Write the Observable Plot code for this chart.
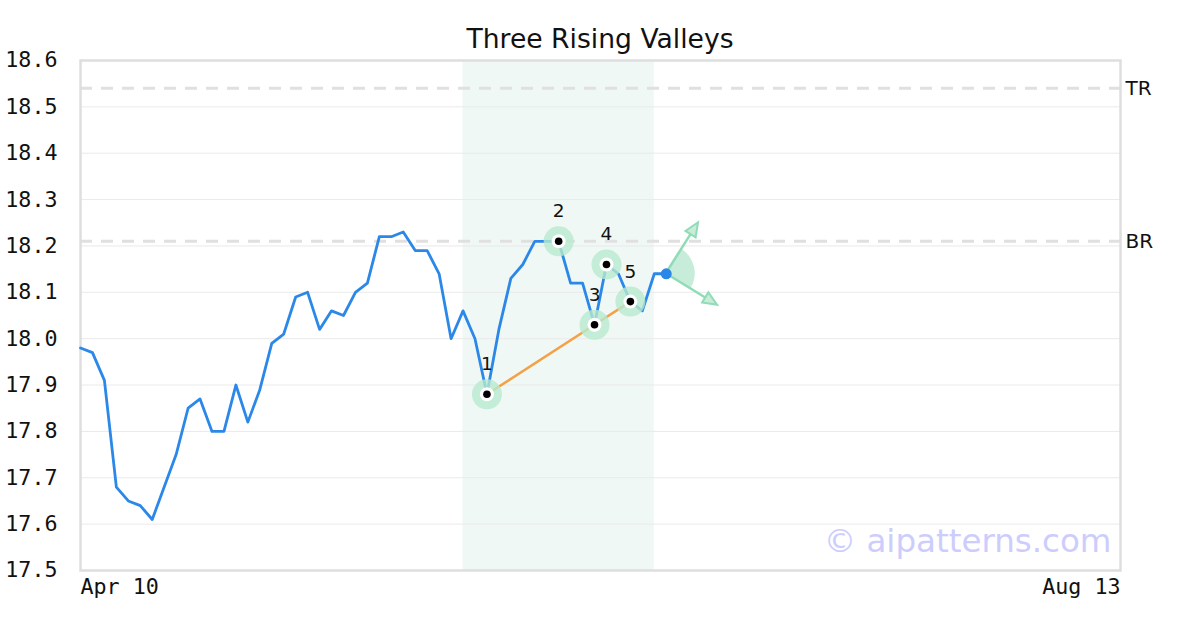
<!DOCTYPE html>
<html>
<head>
<meta charset="utf-8">
<script src="https://cdn.jsdelivr.net/npm/d3@7"></script>
<script src="https://cdn.jsdelivr.net/npm/@observablehq/plot@0.6"></script>
<style>
  html, body { margin: 0; padding: 0; background: #fff; }
  #wrap { position: relative; width: 1200px; height: 630px; }
  #title { position: absolute; left: 0; top: 26px; width: 1200px; text-align: center;
           font-family: "DejaVu Sans", sans-serif; font-size: 26.6px; line-height: 26px; color: #111; }
  #chart { position: absolute; left: 0; top: 0; }
</style>
</head>
<body>
<div id="wrap">
  <div id="chart"></div>
  <div id="title">Three Rising Valleys</div>
</div>
<script>
// ---- data ----
const prices = [17.98, 17.97, 17.91, 17.68, 17.65, 17.64, 17.61, 17.68, 17.75, 17.85,
                17.87, 17.80, 17.80, 17.90, 17.82, 17.89, 17.99, 18.01, 18.09, 18.10,
                18.02, 18.06, 18.05, 18.10, 18.12, 18.22, 18.22, 18.23, 18.19, 18.19,
                18.14, 18.00, 18.06, 18.00, 17.88, 18.02, 18.13, 18.16, 18.21, 18.21,
                18.21, 18.12, 18.12, 18.03, 18.16, 18.14, 18.08, 18.06, 18.14, 18.14];
const xDomain = [0, 87];
const xTickLabels = ["Apr 10", "Aug 13"];
const yDomain = [17.5, 18.6];
const yTicks = [17.5, 17.6, 17.7, 17.8, 17.9, 18.0, 18.1, 18.2, 18.3, 18.4, 18.5, 18.6];
const levelNames = ["TR", "BR"];
const levelValues = [18.54, 18.21];
const patternIdx = [34, 40, 43, 44, 46];
const patternLabels = ["1", "2", "3", "4", "5"];
const trendIdx = [34, 43, 46];
const zoneRange = [32, 48];
const lastIdx = 49;
const arrowEndX = [51.7, 53.3];
const arrowEndY = [18.25, 18.072];
const watermark = "© aipatterns.com";

// ---- tables ----
const series = prices.map((v, i) => ({i, v}));
const pattern = patternIdx.map((i, k) => ({i, v: prices[i], label: patternLabels[k]}));
const trend = trendIdx.map(i => ({i, v: prices[i]}));
const levels = levelNames.map((n, k) => ({name: n, v: levelValues[k]}));
const last = [{i: lastIdx, v: prices[lastIdx]}];
const arrows = arrowEndX.map((x, k) => ({x1: lastIdx, y1: prices[lastIdx], x2: x, y2: arrowEndY[k]}));

const green = "#8fdcb6";

function projection(index, scales) {
  const sx = scales.x, sy = scales.y;
  const g = d3.create("svg:g");
  const cx = sx(lastIdx), cy = sy(prices[lastIdx]);
  const ends = arrows.map(a => [sx(a.x2), sy(a.y2)]);
  const ang = ends.map(([x, y]) => Math.atan2(x - cx, -(y - cy)));
  const arc = d3.arc().innerRadius(0).outerRadius(29)
      .startAngle(Math.min(...ang)).endAngle(Math.max(...ang));
  g.append("path").attr("d", arc()).attr("transform", `translate(${cx},${cy})`)
      .attr("fill", green).attr("fill-opacity", 0.5);
  for (const [x, y] of ends) {
    const dx = x - cx, dy = y - cy, L = Math.hypot(dx, dy);
    const ux = dx / L, uy = dy / L;
    const hl = 14, hw = 6;
    const bx = x - ux * hl, by = y - uy * hl;
    g.append("line").attr("x1", cx).attr("y1", cy).attr("x2", bx).attr("y2", by)
      .attr("stroke", green).attr("stroke-width", 2.5);
    g.append("path")
      .attr("d", `M${x},${y}L${bx - uy * hw},${by + ux * hw}L${bx + uy * hw},${by - ux * hw}Z`)
      .attr("fill", green).attr("fill-opacity", 0.5)
      .attr("stroke", green).attr("stroke-width", 2).attr("stroke-linejoin", "miter");
  }
  return g.node();
}

const chart = Plot.plot({
  width: 1200,
  height: 630,
  marginTop: 60,
  marginBottom: 60,
  marginLeft: 80,
  marginRight: 80,
  style: {fontFamily: "DejaVu Sans Mono, monospace", fontSize: "21.7px", color: "#111", background: "#fff"},
  x: {domain: xDomain, axis: null},
  y: {domain: yDomain, axis: null},
  marks: [
    Plot.rect([zoneRange], {x1: d => d[0], x2: d => d[1], fill: "#eff8f4"}),
    Plot.ruleY(yTicks, {stroke: "#eaeaea", strokeWidth: 1}),
    Plot.ruleY(levels, {y: "v", stroke: "#e0e0e0", strokeWidth: 3, strokeDasharray: "12,9"}),
    Plot.frame({stroke: "#dedede", strokeWidth: 2.5}),
    Plot.axisY({ticks: yTicks, tickSize: 0, tickPadding: 23, tickFormat: d => d.toFixed(1),
                label: null, fontSize: 21.7, fontFamily: "DejaVu Sans Mono, monospace"}),
    Plot.axisX({ticks: [xDomain[0]], tickSize: 0, tickPadding: 8, textAnchor: "start",
                label: null, tickFormat: () => xTickLabels[0], fontSize: 21.7}),
    Plot.axisX({ticks: [xDomain[1]], tickSize: 0, tickPadding: 8, textAnchor: "end",
                label: null, tickFormat: () => xTickLabels[1], fontSize: 21.7}),
    Plot.text(levels, {x: xDomain[1], y: "v", text: "name", textAnchor: "start", dx: 5,
                       fontFamily: "DejaVu Sans, sans-serif", fontSize: 20, fill: "#111"}),
    Plot.text([watermark], {frameAnchor: "bottom-right", dx: -9, dy: -19, text: d => d,
                            fontFamily: "DejaVu Sans, sans-serif", fontSize: 32.5, fill: "#cdcdfd"}),
    Plot.line(series, {x: "i", y: "v", stroke: "#2b88e8", strokeWidth: 2.8}),
    Plot.line(trend, {x: "i", y: "v", stroke: "#f5a045", strokeWidth: 2.5}),
    Plot.dot(pattern, {x: "i", y: "v", r: 15, fill: "#b8eacf", fillOpacity: 0.8}),
    Plot.dot(pattern, {x: "i", y: "v", r: 7, fill: "#fff"}),
    Plot.dot(pattern, {x: "i", y: "v", r: 3.8, fill: "#000"}),
    Plot.text(pattern, {x: "i", y: "v", text: "label", dy: -30,
                        fontFamily: "DejaVu Sans, sans-serif", fontSize: 18.5, fill: "#111"}),
    projection,
    Plot.dot(last, {x: "i", y: "v", r: 5.5, fill: "#2b88e8"})
  ]
});
document.getElementById("chart").appendChild(chart);
</script>
</body>
</html>
